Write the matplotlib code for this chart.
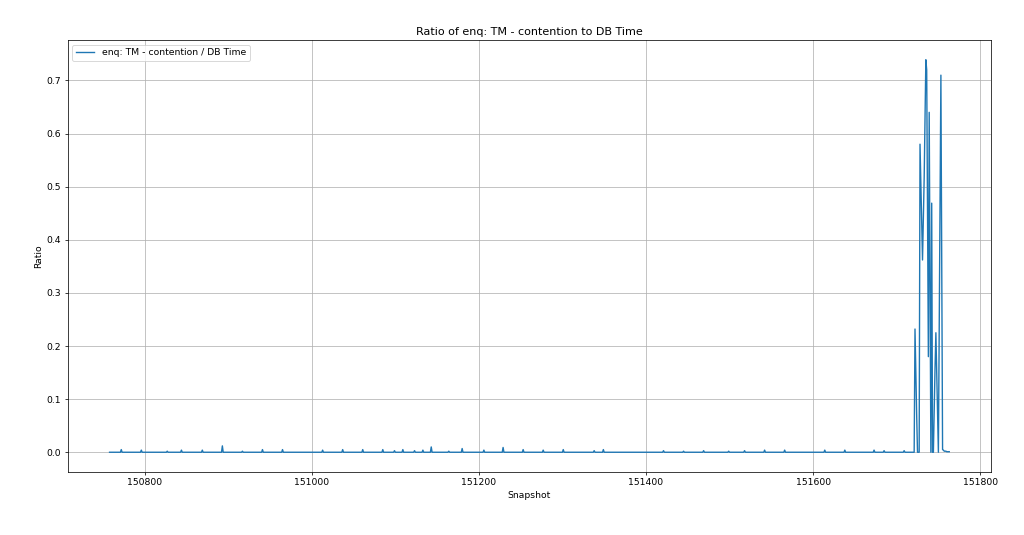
import numpy as np
import matplotlib
matplotlib.use("Agg")
import matplotlib.pyplot as plt

# snapshot range of the series
first_snap = 150758
last_snap = 151763

# small daily bumps on the near-zero baseline
bump_snaps = [150772, 150796, 150827, 150844, 150869, 150893, 150917, 150941,
              150965, 151013, 151037, 151061, 151085, 151099, 151109, 151123,
              151133, 151143, 151164, 151180, 151206, 151229, 151253, 151277,
              151301, 151338, 151349, 151421, 151445, 151469, 151499, 151518,
              151542, 151566, 151614, 151638, 151673, 151685, 151709]
bump_vals = [0.005, 0.004, 0.002, 0.004, 0.004, 0.012, 0.002, 0.005,
             0.005, 0.004, 0.005, 0.005, 0.005, 0.003, 0.005, 0.003,
             0.004, 0.010, 0.002, 0.007, 0.004, 0.009, 0.005, 0.004,
             0.005, 0.003, 0.005, 0.003, 0.002, 0.003, 0.002, 0.003,
             0.004, 0.004, 0.004, 0.004, 0.004, 0.003, 0.003]

# the burst of contention near the end
burst_snaps = list(range(151721, 151764))
burst_vals = [0.0, 0.232, 0.15, 0.07, 0.0, 0.0, 0.0, 0.58, 0.51, 0.44,
              0.362, 0.44, 0.518, 0.63, 0.739, 0.72, 0.45, 0.18, 0.64, 0.30,
              0.0, 0.469, 0.0, 0.0, 0.08, 0.16, 0.225, 0.15, 0.07, 0.0,
              0.24, 0.47, 0.71, 0.36, 0.005, 0.004, 0.002, 0.002, 0.002, 0.001,
              0.001, 0.001, 0.001]

snapshots = np.arange(first_snap, last_snap + 1)
ratio = np.zeros(len(snapshots))
for s, v in zip(bump_snaps, bump_vals):
    ratio[s - first_snap] = v
for s, v in zip(burst_snaps, burst_vals):
    ratio[s - first_snap] = v

# original looks like a 15x8-ish figure shrunk down, so render at lower dpi
fig, ax = plt.subplots(figsize=(15.36, 8.025), dpi=66.667)
ax.plot(snapshots, ratio, label="enq: TM - contention / DB Time")
ax.set_title("Ratio of enq: TM - contention to DB Time")
ax.set_xlabel("Snapshot")
ax.set_ylabel("Ratio")
ax.legend(loc="upper left")
ax.grid(True)
fig.subplots_adjust(left=0.066, right=0.968, top=0.925, bottom=0.118)
fig.savefig("out.png")
